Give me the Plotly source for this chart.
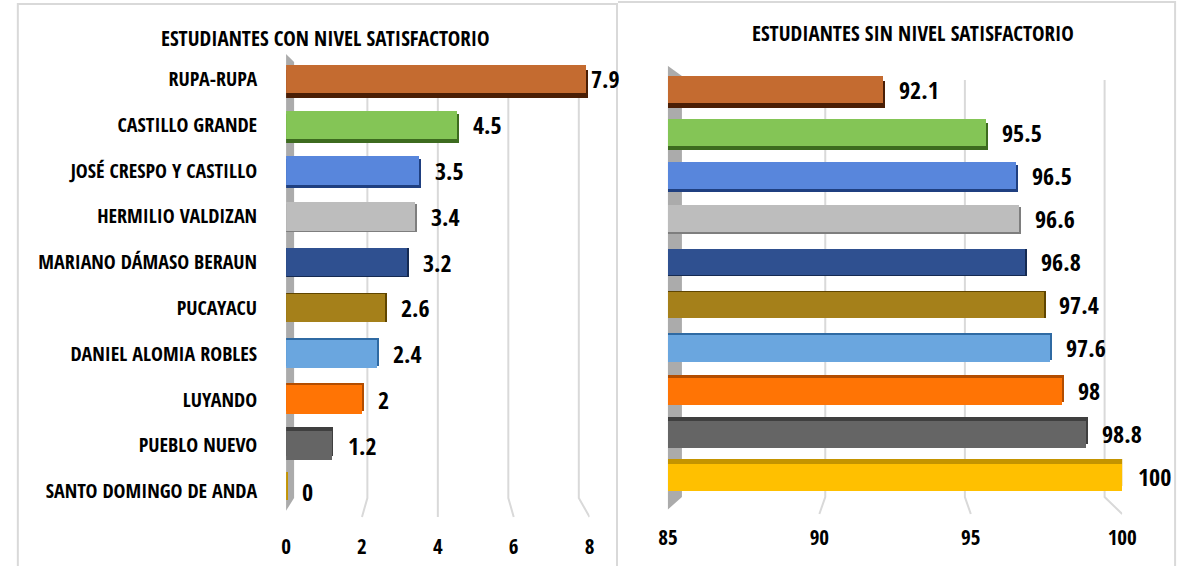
import plotly.graph_objects as go

# ---- data -------------------------------------------------------------
categories = [
    "RUPA-RUPA", "CASTILLO GRANDE", "JOSÉ CRESPO Y CASTILLO", "HERMILIO VALDIZAN",
    "MARIANO DÁMASO BERAUN", "PUCAYACU", "DANIEL ALOMIA ROBLES", "LUYANDO",
    "PUEBLO NUEVO", "SANTO DOMINGO DE ANDA",
]
con_nivel = [7.9, 4.5, 3.5, 3.4, 3.2, 2.6, 2.4, 2, 1.2, 0]
sin_nivel = [92.1, 95.5, 96.5, 96.6, 96.8, 97.4, 97.6, 98, 98.8, 100]
ticks_con = [0, 2, 4, 6, 8]
ticks_sin = [85, 90, 95, 100]
title_con = "ESTUDIANTES CON NIVEL SATISFACTORIO"
title_sin = "ESTUDIANTES SIN NIVEL SATISFACTORIO"

# ---- styling ----------------------------------------------------------
W, H = 1194, 566
FONT = "Open Sans Condensed, Roboto Condensed, DejaVu Sans Condensed, sans-serif"
face = ["#C46B30", "#84C556", "#5886DC", "#BDBDBD", "#2F5090",
        "#A5801A", "#6AA6DF", "#FF7405", "#656565", "#FFC000"]
side = ["#4A1E05", "#3D6B1F", "#1F3F80", "#7E7E7E", "#152A52",
        "#5F4500", "#2F6AA3", "#B34D00", "#3F3F3F", "#C49400"]
BAR_W = 0.62


def px_x(p):
    return p / W


def px_y(p):
    return 1 - p / H


def panel(values, xa, ya, ax_min, ax_max, depth_units, cap_units, tight_end):
    n = len(values)
    mid = (n - 1) / 2
    # perspective: upper bars show their underside, lower bars their top
    d_off = [depth_units * (mid - i) / mid for i in range(n)]
    traces = [
        go.Bar(
            y=categories, x=[v - ax_min + cap_units for v in values], base=ax_min,
            orientation="h", width=BAR_W,
            offset=[-BAR_W / 2 + d for d in d_off],
            marker=dict(color=side, line=dict(width=0)),
            xaxis=xa, yaxis=ya, hoverinfo="skip", showlegend=False,
        ),
        go.Bar(
            y=categories, x=[v - ax_min for v in values], base=ax_min,
            orientation="h", width=BAR_W, offset=-BAR_W / 2,
            marker=dict(color=face, line=dict(width=0)),
            xaxis=xa, yaxis=ya, showlegend=False,
        ),
    ]
    anns = []
    for c, v in zip(categories, values):
        shift = 3 if (tight_end and v > ax_max - 0.5) else 14
        anns.append(dict(
            x=v, y=c, xref=xa, yref=ya, text=f"{v:g}", showarrow=False,
            xanchor="left", yanchor="middle", xshift=shift,
            font=dict(family=FONT, size=24, color="#000", weight=700),
        ))
    return traces, anns


fig = go.Figure()

# left panel geometry
L_X0, L_X1 = 282, 592
L_Y0, L_Y1 = 56, 514
# right panel geometry
R_X0, R_X1 = 672, 1136
R_Y0, R_Y1 = 67.5, 498.5

tr_l, an_l = panel(con_nivel, "x", "y", 0, 8, 0.11, 2 / ((L_X1 - L_X0) / 8), True)
tr_r, an_r = panel(sin_nivel, "x2", "y2", 85, 100, 0.12, 2 / ((R_X1 - R_X0) / 15), False)
for t in tr_l + tr_r:
    fig.add_trace(t)

shapes = []
# panel frames
frame = dict(color="#D9D9D9", width=2)
shapes.append(dict(type="path", xref="paper", yref="paper",
                   path=f"M {px_x(8)},0 L {px_x(8)},{px_y(4)} L {px_x(620)},{px_y(4)} L {px_x(620)},0",
                   line=frame))
shapes.append(dict(type="path", xref="paper", yref="paper",
                   path=f"M {px_x(1190)},0 L {px_x(1190)},{px_y(2)} L {px_x(621)},{px_y(2)}",
                   line=frame))


def gridlines(ticks, xa, px_per_unit, center, shrink, top, mid, bot):
    out = []
    for t in ticks[1:]:
        off = (t - center) * px_per_unit * (shrink - 1)
        out.append(dict(
            type="path", xref=xa, yref="paper", xsizemode="pixel", xanchor=t,
            path=f"M {off:.1f},{px_y(top)} L {off:.1f},{px_y(mid)} L 0,{px_y(bot)}",
            line=dict(color="#D9D9D9", width=2), layer="below",
        ))
    return out


shapes += gridlines(ticks_con, "x", (L_X1 - L_X0) / 8, 4, 0.93, 97, 498, 517)
shapes += gridlines(ticks_sin, "x2", (R_X1 - R_X0) / 15, 92.5, 0.924, 80, 497, 514)

# side walls
shapes.append(dict(
    type="path", xref="x", yref="paper", xsizemode="pixel", xanchor=0,
    path=f"M -4,{px_y(50)} L 8,{px_y(62)} L 8,{px_y(498)} L -4,{px_y(517)} Z",
    fillcolor="#ABABAB", line=dict(width=0), layer="below",
))
shapes.append(dict(
    type="path", xref="x", yref="paper", xsizemode="pixel", xanchor=0,
    path=f"M -4,{px_y(50)} L -4,{px_y(517)}",
    line=dict(color="#595959", width=3), layer="below",
))
shapes.append(dict(
    type="path", xref="x2", yref="paper", xsizemode="pixel", xanchor=85,
    path=f"M -4,{px_y(63)} L 14,{px_y(76)} L 14,{px_y(497)} L -4,{px_y(513)} Z",
    fillcolor="#ABABAB", line=dict(width=0), layer="below",
))

titles = [
    dict(text=title_con, x=px_x(322), y=px_y(38)),
    dict(text=title_sin, x=px_x(922), y=px_y(33)),
]
for t in titles:
    t.update(xref="paper", yref="paper", showarrow=False, xanchor="center", yanchor="middle",
             font=dict(family=FONT, size=21, color="#000", weight=700))

tickfont = dict(family=FONT, size=21, color="#000", weight=700)
fig.update_layout(
    width=W, height=H, margin=dict(l=0, r=0, t=0, b=0),
    paper_bgcolor="white", plot_bgcolor="rgba(0,0,0,0)",
    barmode="overlay", bargap=0,
    shapes=shapes, annotations=titles + an_l + an_r,
    xaxis=dict(domain=[px_x(L_X0), px_x(L_X1)], range=[0, 8], tickvals=ticks_con,
               showgrid=False, zeroline=False, showline=False, ticks="",
               tickfont=tickfont, ticklabelstandoff=18, anchor="y", fixedrange=True),
    yaxis=dict(domain=[px_y(L_Y1), px_y(L_Y0)], autorange="reversed",
               showgrid=False, zeroline=False, showline=False, ticks="",
               tickfont=dict(family=FONT, size=20, color="#000", weight=700),
               ticklabelstandoff=28, anchor="x", fixedrange=True),
    xaxis2=dict(domain=[px_x(R_X0), px_x(R_X1)], range=[85, 100], tickvals=ticks_sin,
                showgrid=False, zeroline=False, showline=False, ticks="",
                tickfont=tickfont, ticklabelstandoff=24, anchor="y2", fixedrange=True),
    yaxis2=dict(domain=[px_y(R_Y1), px_y(R_Y0)], autorange="reversed",
                showgrid=False, zeroline=False, showline=False, showticklabels=False,
                ticks="", anchor="x2", fixedrange=True),
)

fig.write_html("out.html", config={"displayModeBar": False})
